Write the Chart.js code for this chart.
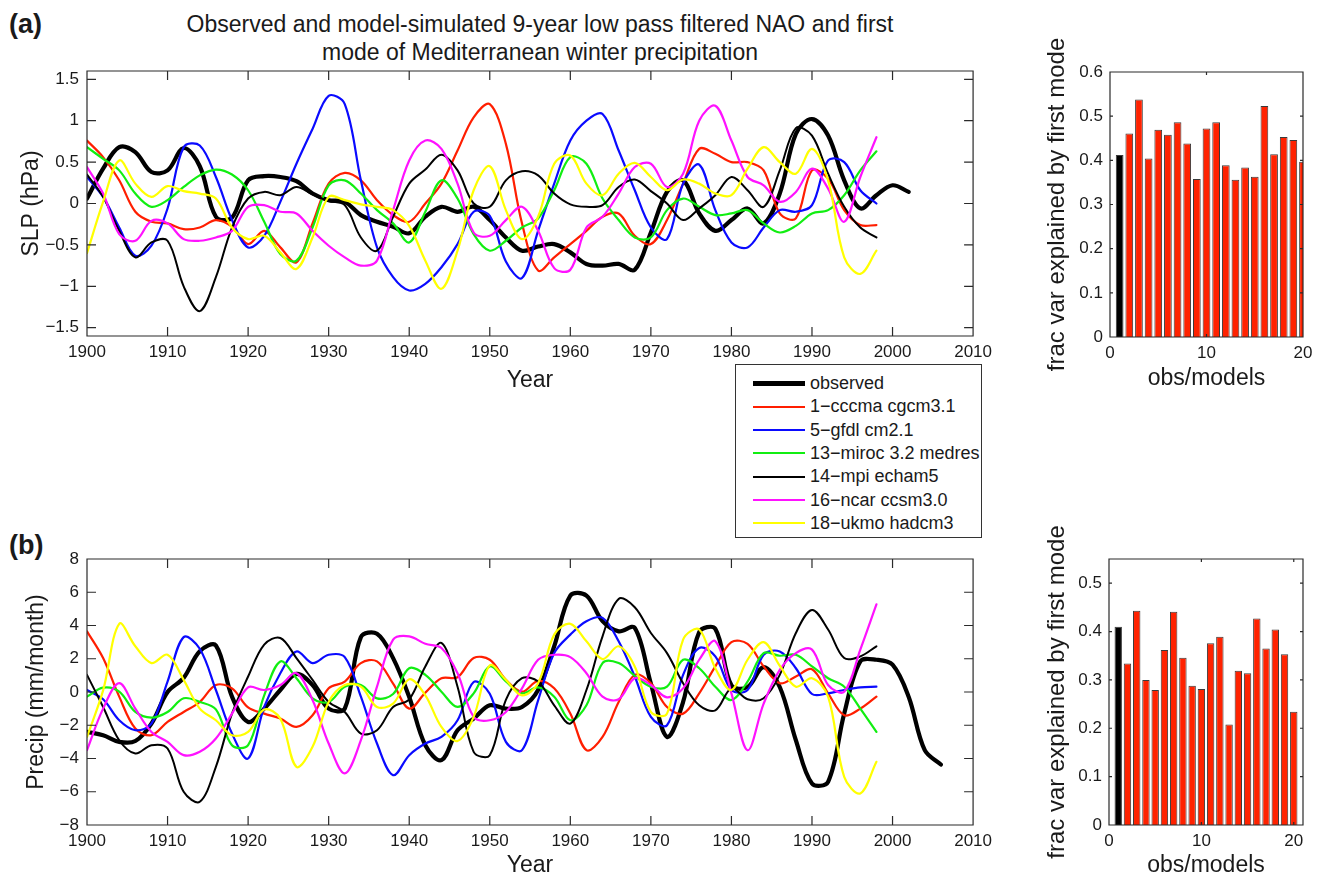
<!DOCTYPE html>
<html>
<head>
<meta charset="utf-8">
<script src="https://cdn.jsdelivr.net/npm/chart.js@4.4.1/dist/chart.umd.min.js"></script>
<style>
  body {
    margin: 0;
    background: #fff;
    width: 1321px;
    height: 879px;
    position: relative;
    overflow: hidden;
    font-family: 'Liberation Sans', Arial, Helvetica, sans-serif;
    color: #1a1a1a;
  }
  canvas { position: absolute; }
  #title {
    position: absolute; left: 140px; top: 10px; width: 800px;
    text-align: center; font-size: 23px; line-height: 28px;
  }
  .panel { position: absolute; left: 9px; font-size: 27px; font-weight: bold; line-height: 30px; }
  #legend {
    position: absolute; left: 735px; top: 364px; width: 245px; height: 172px;
    border: 1px solid #333; background: #fff; z-index: 2;
  }
  #legend .row {
    position: absolute; left: 17px; height: 23px; display: flex; align-items: center;
    font-size: 18px; white-space: nowrap;
  }
  #legend .swatch { width: 52px; margin-right: 5px; }
</style>
</head>
<body>
<div id="title">Observed and model-simulated 9-year low pass filtered NAO and first<br>mode of Mediterranean winter precipitation</div>
<div class="panel" style="top:9px">(a)</div>
<div class="panel" style="top:530px">(b)</div>

<canvas id="naoLines" width="1000" height="400" style="left:0;top:0"></canvas>
<canvas id="naoBars" width="321" height="400" style="left:1000px;top:0"></canvas>
<canvas id="prLines" width="1000" height="399" style="left:0;top:480px"></canvas>
<canvas id="prBars" width="321" height="399" style="left:1000px;top:480px"></canvas>
<div id="legend"></div>

<script>
// ---- data ----
const yearsModel = [1900, 1902, 1904, 1906, 1908, 1910, 1912, 1914, 1916, 1918,
                    1920, 1922, 1924, 1926, 1928, 1930, 1932, 1934, 1936, 1938,
                    1940, 1942, 1944, 1946, 1948, 1950, 1952, 1954, 1956, 1958,
                    1960, 1962, 1964, 1966, 1968, 1970, 1972, 1974, 1976, 1978,
                    1980, 1982, 1984, 1986, 1988, 1990, 1992, 1994, 1996, 1998];
const yearsObsNao = yearsModel.concat([2000, 2002]);
const yearsObsPr = yearsModel.concat([2000, 2002, 2004, 2006]);

const seriesNames = ['observed', '1\u2212cccma cgcm3.1', '5\u2212gfdl cm2.1', '13\u2212miroc 3.2 medres',
                     '14\u2212mpi echam5', '16\u2212ncar ccsm3.0', '18\u2212ukmo hadcm3'];

// SLP (hPa), NAO index
const naoObs = [0.06, 0.42, 0.68, 0.62, 0.38, 0.40, 0.67, 0.45, -0.16, -0.17,
                0.28, 0.33, 0.32, 0.27, 0.12, 0.04, 0.02, -0.14, -0.22, -0.28,
                -0.36, -0.16, -0.04, -0.10, -0.04, -0.20, -0.41, -0.57, -0.52, -0.49,
                -0.59, -0.73, -0.75, -0.73, -0.80, -0.35, 0.14, 0.28, -0.12, -0.33,
                -0.20, -0.06, -0.24, 0.12, 0.84, 1.02, 0.82, 0.28, -0.06, 0.10,
                0.22, 0.14];
const naoCccma = [0.76, 0.56, 0.28, -0.10, -0.22, -0.24, -0.31, -0.29, -0.20, -0.28,
                  -0.49, -0.33, -0.53, -0.71, -0.24, 0.24, 0.37, 0.28, 0.04, -0.14,
                  -0.22, 0.00, 0.24, 0.64, 1.04, 1.20, 0.72, -0.24, -0.81, -0.65,
                  -0.49, -0.33, -0.16, -0.12, -0.39, -0.49, -0.20, 0.24, 0.66, 0.60,
                  0.50, 0.50, 0.40, -0.12, -0.18, 0.40, 0.30, -0.08, -0.26, -0.26];
const naoGfdl = [0.32, 0.08, -0.29, -0.63, -0.51, -0.06, 0.68, 0.70, 0.32, -0.20,
                 -0.53, -0.39, 0.02, 0.48, 0.90, 1.30, 1.20, 0.28, -0.53, -0.89,
                 -1.05, -0.97, -0.77, -0.49, -0.10, -0.15, -0.70, -0.90, -0.33, 0.24,
                 0.76, 1.00, 1.08, 0.64, 0.16, -0.29, -0.43, 0.24, 0.47, -0.08,
                 -0.47, -0.53, -0.29, -0.08, -0.10, -0.02, 0.52, 0.50, 0.16, 0.00];
const naoMiroc = [0.68, 0.54, 0.40, 0.12, -0.04, 0.04, 0.20, 0.34, 0.41, 0.35,
                  0.16, -0.22, -0.61, -0.69, -0.29, 0.22, 0.28, 0.12, -0.08, -0.24,
                  -0.47, -0.10, 0.28, 0.06, -0.37, -0.57, -0.45, -0.29, -0.18, 0.16,
                  0.56, 0.48, 0.06, -0.20, -0.41, -0.41, -0.08, 0.06, -0.04, -0.14,
                  -0.12, -0.08, -0.24, -0.35, -0.27, -0.12, -0.08, 0.10, 0.40, 0.63];
const naoMpi = [0.35, 0.08, -0.33, -0.65, -0.47, -0.45, -1.00, -1.30, -0.89, -0.29,
                0.06, 0.14, 0.10, 0.20, 0.11, 0.03, -0.02, -0.41, -0.57, -0.16,
                0.24, 0.41, 0.59, 0.40, 0.00, -0.04, 0.28, 0.39, 0.34, 0.12,
                -0.01, -0.04, -0.02, 0.20, 0.29, 0.15, 0.00, -0.20, -0.06, 0.10,
                0.32, 0.16, -0.04, 0.40, 0.91, 0.82, 0.36, -0.04, -0.29, -0.41];
const naoNcar = [0.44, 0.12, -0.37, -0.45, -0.21, -0.24, -0.43, -0.45, -0.41, -0.33,
                 -0.04, -0.02, -0.10, -0.12, -0.33, -0.51, -0.65, -0.75, -0.69, -0.08,
                 0.52, 0.76, 0.66, 0.24, -0.35, -0.39, -0.20, -0.04, -0.33, -0.78,
                 -0.80, -0.29, -0.16, 0.12, 0.44, 0.48, 0.20, 0.36, 1.00, 1.18,
                 0.76, 0.32, 0.22, 0.02, 0.14, 0.42, 0.18, -0.22, 0.32, 0.80];
const naoUkmo = [-0.60, 0.02, 0.52, 0.24, 0.08, 0.21, 0.15, 0.12, 0.06, -0.29,
                 -0.43, -0.39, -0.59, -0.79, -0.41, 0.08, 0.04, -0.01, -0.04, -0.08,
                 -0.27, -0.69, -1.03, -0.57, 0.16, 0.45, -0.08, -0.43, -0.16, 0.48,
                 0.58, 0.24, 0.10, 0.36, 0.49, 0.32, 0.16, 0.29, 0.24, 0.12,
                 0.10, 0.42, 0.68, 0.50, 0.36, 0.66, 0.28, -0.65, -0.85, -0.57];

// Precip (mm/month), first mode
const prObs = [-2.4, -2.6, -3.0, -2.95, -1.9, 0.0, 0.85, 2.45, 2.8, -0.28,
               -1.8, -1.0, 0.12, 1.09, 0.42, -1.0, -1.0, 3.3, 3.5, 2.04,
               -0.3, -3.2, -4.1, -2.3, -1.6, -0.8, -1.0, -0.9, 0.12, 2.75,
               5.8, 5.8, 4.26, 3.65, 3.86, 0.5, -2.7, -0.6, 3.6, 3.8,
               0.4, 0.3, 1.5, 0.3, -2.9, -5.5, -5.4, -1.3, 1.84, 1.94,
               1.64, -0.28, -3.5, -4.36];
const prCccma = [3.65, 2.04, -0.28, -2.2, -2.6, -1.8, -1.2, -0.6, 0.42, 0.22,
                 -0.93, -1.3, -1.6, -2.1, -1.4, 0.22, 0.63, 1.74, 1.84, 0.5,
                 -1.0, -0.04, 0.83, 0.89, 2.04, 1.94, 0.73, 0.02, 0.67, 0.22,
                 -1.3, -3.5, -2.7, -0.6, 1.03, 0.53, -0.9, -1.3, -0.08, 1.54,
                 3.0, 2.9, 1.54, 0.53, 0.93, 1.37, -0.08, -1.4, -1.0, -0.28];
const prGfdl = [0.12, -0.44, -1.7, -2.3, -1.9, 0.63, 3.3, 2.6, 0.12, -2.5,
                -4.0, -0.9, 1.13, 2.44, 1.74, 2.24, 2.1, -0.28, -3.1, -5.0,
                -3.8, -3.1, -2.7, -1.7, 0.6, -0.1, -3.0, -3.5, -0.5, 2.34,
                3.45, 4.26, 4.46, 3.05, 0.93, -1.5, -2.0, 1.03, 2.65, 2.14,
                0.12, 0.12, 2.24, 2.44, 1.43, -0.12, -0.08, 0.12, 0.28, 0.32];
const prMiroc = [-0.28, 0.26, 0.02, -1.2, -1.54, -1.2, -0.38, -0.6, -1.05, -3.2,
                 -3.2, -0.2, 1.84, 0.83, -0.38, -0.6, 0.32, 0.42, -0.38, -0.12,
                 1.43, 1.03, 0.02, -0.9, -0.08, 1.54, 0.63, -0.08, 0.28, -0.28,
                 -1.7, -0.8, 1.74, 1.74, 0.97, 0.32, 0.32, 1.94, 1.43, 0.32,
                 -0.48, 0.63, 2.34, 2.18, 2.24, 1.54, 0.83, 0.32, -1.0, -2.4];
const prMpi = [1.03, -0.9, -2.9, -3.7, -3.2, -3.4, -6.0, -6.6, -4.5, -1.3,
               0.93, 2.85, 3.25, 2.04, 0.73, -0.6, -1.2, -2.5, -2.3, -0.9,
               -0.44, 1.54, 2.95, 0.32, -3.6, -3.8, -0.48, 0.83, 0.63, -0.8,
               -1.9, 0.12, 3.35, 5.6, 5.1, 3.55, 2.34, 0.53, -0.8, -1.1,
               0.22, -0.44, -0.38, 1.03, 3.55, 4.93, 3.76, 2.04, 2.14, 2.75];
const prNcar = [-3.5, -1.0, 0.53, -1.0, -2.4, -3.0, -3.8, -3.6, -2.8, -1.3,
                0.28, 0.12, 0.42, 1.13, -0.48, -3.1, -4.9, -2.9, 0.32, 3.15,
                3.35, 2.9, 2.65, 1.13, -1.5, -1.7, -1.2, 0.22, 1.94, 2.24,
                2.1, 1.13, -0.28, -0.44, 0.83, 0.42, -0.32, 0.22, 1.94, 3.05,
                -0.08, -3.5, -0.7, 1.33, 2.34, 2.55, 0.42, 0.02, 2.55, 5.27];
const prUkmo = [-2.7, 0.1, 4.1, 2.75, 1.74, 2.24, 0.73, -1.0, -1.7, -2.6,
                -2.4, -1.05, -1.6, -4.5, -3.3, -0.6, 0.42, 0.32, -0.9, -0.7,
                0.77, -0.2, -2.1, -2.95, -1.5, 1.6, 0.73, -0.2, 0.53, 3.45,
                4.1, 3.05, 1.98, 2.75, 1.54, -1.2, -1.3, 3.15, 3.76, 1.43,
                0.12, 1.94, 3.0, 1.58, 0.32, 0.83, -0.28, -5.1, -6.1, -4.2];

// fraction of variance explained by the first mode, obs first then models
const modelIndex = [1, 2, 3, 4, 5, 6, 7, 8, 9, 10, 11, 12, 13, 14, 15, 16, 17, 18, 19, 20];
const fracNao = [0.412, 0.461, 0.538, 0.404, 0.469, 0.458, 0.486, 0.438, 0.358, 0.472,
                 0.486, 0.389, 0.356, 0.384, 0.363, 0.523, 0.414, 0.453, 0.446, 0.397];
const fracPr = [0.410, 0.334, 0.443, 0.300, 0.279, 0.362, 0.441, 0.346, 0.288, 0.281,
                0.376, 0.389, 0.208, 0.319, 0.314, 0.427, 0.365, 0.404, 0.353, 0.234];

// tick values
const yearTicks = [1900, 1910, 1920, 1930, 1940, 1950, 1960, 1970, 1980, 1990, 2000, 2010];
const slpTicks = [-1.5, -1, -0.5, 0, 0.5, 1, 1.5];
const precipTicks = [-8, -6, -4, -2, 0, 2, 4, 6, 8];
const fracTicksNao = [0, 0.1, 0.2, 0.3, 0.4, 0.5, 0.6];
const fracTicksPr = [0, 0.1, 0.2, 0.3, 0.4, 0.5];
const modelTicks = [0, 10, 20];

// ---- styling ----
const FONT = "'Liberation Sans', Arial, Helvetica, sans-serif";
const TEXT = '#1a1a1a';
const tickFont = { family: FONT, size: 17, lineHeight: 1 };
const labelFont = { family: FONT, size: 23, lineHeight: 1 };
const barLabelFont = { family: FONT, size: 24, lineHeight: 1 };
const lineStyle = [
  { color: '#000000', width: 4.2 },
  { color: '#ff1e00', width: 2.2 },
  { color: '#0a0aff', width: 2.2 },
  { color: '#11ee11', width: 2.2 },
  { color: '#000000', width: 2.0 },
  { color: '#ff12ff', width: 2.2 },
  { color: '#ffff00', width: 2.2 }
];

const minus = v => String(v).replace('-', '\u2212');
const setTicks = values => scale => { scale.ticks = values.map(v => ({ value: v })); };

// matlab-style box with inward ticks on all four sides
const framePlugin = {
  id: 'frame',
  afterDatasetsDraw(chart, args, opts) {
    const { ctx, chartArea: a, scales: { x, y } } = chart;
    const len = opts.tick || 9;
    ctx.save();
    ctx.strokeStyle = '#2a2a2a';
    ctx.lineWidth = 1.2;
    ctx.beginPath();
    ctx.rect(a.left, a.top, a.right - a.left, a.bottom - a.top);
    x.ticks.forEach(t => {
      const px = x.getPixelForValue(t.value);
      ctx.moveTo(px, a.bottom); ctx.lineTo(px, a.bottom - len);
      ctx.moveTo(px, a.top); ctx.lineTo(px, a.top + len);
    });
    y.ticks.forEach(t => {
      const py = y.getPixelForValue(t.value);
      ctx.moveTo(a.left, py); ctx.lineTo(a.left + len, py);
      ctx.moveTo(a.right, py); ctx.lineTo(a.right - len, py);
    });
    ctx.stroke();
    ctx.restore();
  }
};

function lineDatasets(series) {
  return series.map((s, i) => ({
    label: seriesNames[i],
    data: s.years.map((yr, k) => ({ x: yr, y: s.values[k] })),
    borderColor: lineStyle[i].color,
    borderWidth: lineStyle[i].width,
    pointRadius: 0,
    tension: 0.35,
    borderJoinStyle: 'round',
    borderCapStyle: 'round',
    fill: false,
    order: series.length - i
  }));
}

function lineChart(id, series, yCfg) {
  return new Chart(document.getElementById(id), {
    type: 'line',
    data: { datasets: lineDatasets(series) },
    options: {
      responsive: false,
      animation: false,
      events: [],
      layout: { padding: yCfg.padding },
      plugins: { legend: { display: false }, tooltip: { enabled: false }, frame: { tick: 9 } },
      scales: {
        x: {
          type: 'linear', min: 1900, max: 2010,
          afterFit: s => { s.height = yCfg.xHeight; },
          afterBuildTicks: setTicks(yearTicks),
          grid: { display: false, drawTicks: false },
          border: { display: false },
          ticks: { padding: 8, color: TEXT, font: tickFont, maxRotation: 0, autoSkip: false,
                   callback: v => String(v) },
          title: { display: true, text: 'Year', color: TEXT, font: labelFont,
                   padding: { top: 0, bottom: yCfg.xTitlePad } }
        },
        y: {
          min: yCfg.min, max: yCfg.max,
          afterFit: s => { s.width = yCfg.yWidth; },
          afterBuildTicks: setTicks(yCfg.ticks),
          grid: { display: false, drawTicks: false },
          border: { display: false },
          ticks: { padding: 8, color: TEXT, font: tickFont, callback: v => minus(v) },
          title: { display: true, text: yCfg.title, color: TEXT, font: labelFont, padding: 0 }
        }
      }
    },
    plugins: [framePlugin]
  });
}

function barChart(id, values, yCfg) {
  return new Chart(document.getElementById(id), {
    type: 'bar',
    data: {
      datasets: [{
        data: modelIndex.map((m, k) => ({ x: m, y: values[k] })),
        backgroundColor: modelIndex.map(m => (m === 1 ? '#000000' : '#ff2200')),
        borderColor: '#3a3a3a',
        borderWidth: 1,
        barPercentage: 0.8,
        categoryPercentage: 1.0
      }]
    },
    options: {
      responsive: false,
      animation: false,
      events: [],
      layout: { padding: yCfg.padding },
      plugins: { legend: { display: false }, tooltip: { enabled: false }, frame: { tick: 3 } },
      scales: {
        x: {
          type: 'linear', min: 0, max: yCfg.xMax, offset: false,
          afterFit: s => { s.height = yCfg.xHeight; },
          afterBuildTicks: setTicks(modelTicks),
          grid: { display: false, drawTicks: false },
          border: { display: false },
          ticks: { padding: 8, color: TEXT, font: tickFont, maxRotation: 0, callback: v => String(v) },
          title: { display: true, text: 'obs/models', color: TEXT, font: labelFont,
                   padding: { top: 0, bottom: yCfg.xTitlePad } }
        },
        y: {
          min: 0, max: yCfg.max,
          afterFit: s => { s.width = yCfg.yWidth; },
          afterBuildTicks: setTicks(yCfg.ticks),
          grid: { display: false, drawTicks: false },
          border: { display: false },
          ticks: { padding: 7, color: TEXT, font: tickFont, callback: v => String(v) },
          title: { display: true, text: 'frac var explained by first mode', color: TEXT,
                   font: barLabelFont, padding: 0 }
        }
      }
    },
    plugins: [framePlugin]
  });
}

lineChart('naoLines', [
  { years: yearsObsNao, values: naoObs },
  { years: yearsModel, values: naoCccma },
  { years: yearsModel, values: naoGfdl },
  { years: yearsModel, values: naoMiroc },
  { years: yearsModel, values: naoMpi },
  { years: yearsModel, values: naoNcar },
  { years: yearsModel, values: naoUkmo }
], { min: -1.6, max: 1.6, ticks: slpTicks, title: 'SLP (hPa)',
     padding: { left: 20, right: 19, top: 71, bottom: 0 }, yWidth: 67, xHeight: 64, xTitlePad: 8 });

lineChart('prLines', [
  { years: yearsObsPr, values: prObs },
  { years: yearsModel, values: prCccma },
  { years: yearsModel, values: prGfdl },
  { years: yearsModel, values: prMiroc },
  { years: yearsModel, values: prMpi },
  { years: yearsModel, values: prNcar },
  { years: yearsModel, values: prUkmo }
], { min: -8, max: 8, ticks: precipTicks, title: 'Precip (mm/month)',
     padding: { left: 25, right: 19, top: 79, bottom: 0 }, yWidth: 62, xHeight: 54, xTitlePad: 2 });

barChart('naoBars', fracNao, { max: 0.6, ticks: fracTicksNao, xMax: 20,
  padding: { left: 45, right: 18, top: 72, bottom: 0 }, yWidth: 65, xHeight: 63, xTitlePad: 10 });

barChart('prBars', fracPr, { max: 0.55, ticks: fracTicksPr, xMax: 21,
  padding: { left: 45, right: 18, top: 79, bottom: 0 }, yWidth: 64, xHeight: 54, xTitlePad: 2 });

// legend box, built from the same series names and line styles
const legend = document.getElementById('legend');
seriesNames.forEach((name, i) => {
  const row = document.createElement('div');
  row.className = 'row';
  row.style.top = (7 + i * 23.3) + 'px';
  const sw = document.createElement('span');
  sw.className = 'swatch';
  sw.style.height = lineStyle[i].width + 'px';
  sw.style.background = lineStyle[i].color;
  row.appendChild(sw);
  row.appendChild(document.createTextNode(name));
  legend.appendChild(row);
});
</script>
</body>
</html>
